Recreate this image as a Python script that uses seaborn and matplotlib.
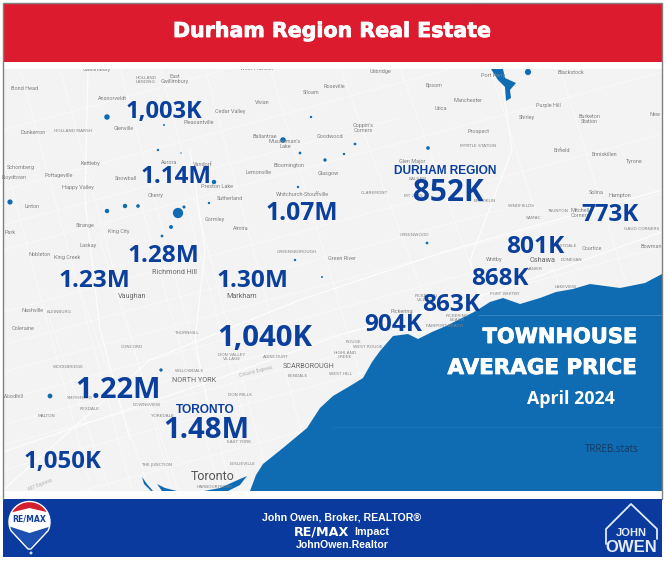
import numpy as np
import seaborn as sns
import matplotlib
matplotlib.use('Agg')
import matplotlib.pyplot as plt
import matplotlib.patheffects as pe
from matplotlib.patches import Rectangle, Polygon, Circle

# Average price labels on the map
price_labels = ['1,003K', '1.14M', '1.07M', '1.28M', '1.23M', '1.30M', '1,040K', '1.22M',
                '1.48M', '1,050K', '852K', '773K', '801K', '868K', '863K', '904K']
price_x = [164, 176, 302, 163, 94, 253, 265, 118, 206, 62, 448, 610, 535, 500, 451, 393]
price_y = [112, 177, 214, 256, 281, 281, 338, 391, 430, 462, 193, 215, 247, 279, 305, 325]
price_size = [17, 17.4, 17.8, 17.6, 17.6, 17.6, 21.2, 21, 21.2, 17.3, 21.4, 17.5, 17.6, 17.4, 17.6, 17.6]

# Place names: (name, x, y)
towns = [('Bond Head', 25, 89), ('East\nGwillimbury', 175, 79), ('Gwillimbury', 97, 69), ('West Franklin', 256, 69),
         ('Ansnorveldt', 112, 98), ('Vivian', 262, 102), ('Siloam', 311, 93), ('Roseville', 334, 86),
         ('Cedar Valley', 230, 112), ('Pleasantville', 199, 123), ('Glenville', 124, 129), ('Dunkerron', 33, 133),
         ('Ballantrae', 265, 136), ("Musselman's\nLake", 285, 144), ('Goodwood', 330, 136), ('Aurora', 169, 163),
         ('Vandorf', 203, 164), ('Kettleby', 90, 164), ('Schomberg', 21, 168), ('Lemonville', 258, 172),
         ('Bloomington', 289, 166), ('Glasgow', 328, 174), ('Pottageville', 59, 176), ('Snowball', 126, 178),
         ('Lloydtown', 14, 178), ('Happy Valley', 78, 187), ('Preston Lake', 217, 186), ('Cherry', 156, 196),
         ('Sutherland', 230, 198), ('Whitchurch-Stouffville', 302, 195), ('Linton', 32, 207), ('Gormley', 215, 220),
         ('Strange', 85, 226), ('Almira', 241, 229), ('Park', 10, 233), ('King City', 119, 232), ('Laskay', 88, 246),
         ('Nobleton', 40, 255), ('King Creek', 67, 257), ('Green River', 342, 258), ('Uxbridge', 380, 72),
         ('Epsom', 434, 86), ('Port Perry', 493, 75), ('Blackstock', 571, 72), ('Manchester', 468, 100),
         ('Utica', 441, 108), ('Purple Hill', 548, 106), ('Shirley', 527, 118), ('Burketon\nStation', 589, 119),
         ('New', 655, 115), ("Coppin's\nCorners", 363, 128), ('Prospect', 478, 132), ('Enfield', 562, 151),
         ('Enniskillen', 604, 155), ('Tyrone', 634, 162), ('Glen Major', 412, 161), ('Mitchell\nCorners', 580, 213),
         ('Solina', 596, 192), ('Hampton', 620, 195), ('Courtice', 592, 248), ('Bowman', 651, 246),
         ('Whitby', 494, 260), ('Nashville', 33, 310), ('Coleraine', 23, 329), ('Woodhill', 13, 396),
         ('Pickering', 402, 312)]

districts = [('HOLLAND\nLANDING', 146, 80), ('HOLLAND MARSH', 73, 131), ('GREENSBOROUGH', 297, 252),
             ('MYRTLE STATION', 478, 146), ('BALSAM', 418, 179), ('MT ZION', 413, 196), ('BROOKLIN', 485, 201),
             ('CLAREMONT', 374, 193), ('WINDFIELDS', 521, 206), ('SAMAC', 533, 218), ('TAUNTON', 557, 211),
             ('GAUD CORNERS', 642, 229), ('GREENWOOD', 415, 235), ('EASTDALE', 566, 246), ('DONEVAN', 571, 260),
             ('VANIER', 535, 269), ('KLEINBURG', 59, 312), ('THORNHILL', 186, 333), ('CONCORD', 132, 347),
             ('DON VALLEY\nVILLAGE', 232, 357), ('AGINCOURT', 276, 357), ('WOODBRIDGE', 68, 367),
             ('WILLOWDALE', 189, 371), ('BENDALE', 298, 376), ('DOWNSVIEW', 147, 405), ('REXDALE', 90, 409),
             ('DON MILLS', 240, 395), ('MALTON', 47, 416), ('YORKDALE', 162, 416), ('EAST YORK', 239, 442),
             ('THE JUNCTION', 157, 465), ('LESLIEVILLE', 243, 464), ('HARBOURFRONT', 215, 487),
             ('PICKERING\nVILLAGE', 426, 298), ('PICKERING\nBEACH', 457, 318), ('FAIRPORT BEACH', 444, 326),
             ('ROUGE', 353, 342), ('WEST ROUGE', 368, 347), ('HIGHLAND\nCREEK', 345, 355), ('WEST HILL', 341, 374),
             ('PORT WHITBY', 505, 294), ('LAKEVIEW', 566, 287), ('SMITHFIELD', 80, 398)]

cities = [('Richmond Hill', 174, 272), ('Vaughan', 132, 296), ('Markham', 242, 296), ('Oshawa', 543, 260),
          ('NORTH YORK', 194, 380), ('SCARBOROUGH', 309, 367)]

# Small lakes and ponds
lake_x = [107, 158, 178, 125, 138, 107, 184, 171, 162, 209, 214, 10, 283, 311, 325, 298, 300, 295, 322,
          428, 355, 344, 427, 161, 50, 528, 164, 181]
lake_y = [117, 150, 213, 206, 206, 211, 207, 227, 236, 203, 182, 202, 140, 117, 160, 187, 153, 260, 277,
          148, 144, 154, 243, 370, 396, 72, 125, 153]
lake_area = [16, 3, 55, 10, 7, 10, 5, 8, 4, 3, 10, 14, 16, 3, 6, 3, 4, 3, 2,
             7, 4, 3, 4, 6, 12, 20, 2, 1]

# Road lines on the base map
roads = [((3, 130), (662, -48)), ((3, 190), (662, 12)), ((3, 250), (662, 72)), ((3, 312), (662, 134)),
         ((3, 372), (662, 194)), ((3, 425), (662, 247)), ((3, 470), (662, 292)), ((3, 512), (500, 378)),
         ((3, 225), (400, 118)), ((3, 345), (500, 210)), ((3, 400), (500, 265)), ((3, 445), (450, 325)),
         ((60, 68), (172, 491)), ((120, 68), (232, 491)), ((160, 68), (272, 491)), ((205, 68), (317, 491)),
         ((270, 68), (382, 450)), ((340, 68), (440, 340)), ((400, 68), (490, 320)), ((490, 68), (560, 290)),
         ((560, 68), (625, 280)), ((20, 68), (132, 491)), ((-20, 68), (92, 491)), ((140, 200), (220, 491)),
         ((185, 200), (245, 420)), ((100, 240), (178, 491)), ((80, 290), (150, 491)), ((50, 320), (110, 491))]
highways = [((3, 452), (200, 385), (340, 335), (500, 290), (662, 232)),
            ((3, 490), (150, 360), (300, 300), (450, 250), (662, 190)),
            ((88, 68), (85, 200), (100, 330), (130, 440)),
            ((190, 150), (205, 250), (195, 340), (215, 440)),
            ((500, 68), (512, 150), (470, 260), (480, 300))]

# Larger water shapes
lake_ontario = [(250, 491), (256, 475), (263, 464), (283, 448), (307, 428), (320, 408), (333, 396), (350, 386),
                (363, 378), (372, 362), (380, 351), (393, 336), (408, 334), (418, 339), (432, 332), (446, 326),
                (462, 318), (476, 311), (490, 302), (503, 298), (520, 304), (540, 298), (556, 292), (573, 289),
                (590, 284), (620, 288), (645, 283), (662, 274), (662, 491)]
port_perry = [(491, 69), (503, 69), (505, 78), (516, 83), (510, 90), (511, 98), (506, 101), (505, 87), (498, 80)]
harbour = [(204, 491), (220, 488), (240, 479), (247, 476), (240, 485), (228, 491)]
west_bay = [(157, 484), (165, 488), (177, 491), (162, 491)]
humber = [(142, 477), (147, 484), (153, 491), (151, 491), (144, 484)]

RED = '#dc1c2e'
NAVY = '#0b3a9e'
PRICE = '#0b3f9c'
WATER = '#0f6cb3'
LAND = '#f3f3f4'
W, H = 667, 562

sns.set_theme(style='white')
plt.rcParams['font.family'] = ['Open Sans', 'DejaVu Sans']

fig = plt.figure(figsize=(W / 100, H / 100), dpi=100)
ax = fig.add_axes([0, 0, 1, 1])
ax.set_xlim(0, W)
ax.set_ylim(H, 0)
ax.axis('off')

# Map base
ax.add_patch(Rectangle((3, 68), 659, 423, fc=LAND, ec='none', zorder=0))
for r in roads:
    ax.plot(*zip(*r), color='#fbfbfb', lw=0.5, zorder=1)
for r in highways:
    ax.plot(*zip(*r), color='#fdfdfd', lw=0.9, zorder=1)

# Water
for shape in [lake_ontario, port_perry, harbour, west_bay, humber]:
    ax.add_patch(Polygon(shape, closed=True, fc=WATER, ec='none', zorder=2))
sns.scatterplot(x=lake_x, y=lake_y, s=lake_area, color=WATER, linewidth=0, ax=ax, legend=False, zorder=2)
ax.plot([478, 662], [315, 315], color='#3f8ac6', lw=0.6, zorder=2)
ax.plot([333, 662], [427, 427], color='#2477ba', lw=0.5, zorder=2)

# Place names
for name, x, y in towns:
    ax.text(x, y, name, fontsize=4.0, color='#808080', ha='center', va='center', family='Roboto',
            linespacing=0.9, zorder=3)
for name, x, y in districts:
    ax.text(x, y, name, fontsize=3.2, color='#858585', ha='center', va='center', family='DejaVu Sans',
            linespacing=0.9, zorder=3)
for name, x, y in cities:
    ax.text(x, y, name, fontsize=5.2, color='#6a6a6a', ha='center', va='center', family='Roboto', zorder=3)
ax.text(213, 476, 'Toronto', fontsize=9, color='#555555', ha='center', va='center', family='Roboto', zorder=3)
ax.text(256, 371, 'Ontario Express', fontsize=3.3, color='#a5a5a5', rotation=14, ha='center', va='center', zorder=3)
ax.text(40, 485, '407 Express', fontsize=3.3, color='#a5a5a5', rotation=22, ha='center', va='center', zorder=3)

# Prices
for label, x, y, size in zip(price_labels, price_x, price_y, price_size):
    ax.text(x, y, label, fontsize=size, fontweight='bold', color=PRICE, ha='center', va='center', zorder=4)
ax.text(445, 171, 'DURHAM REGION', fontsize=8.6, fontweight='bold', color=PRICE, ha='center', va='center',
        family='Liberation Sans', zorder=4)
ax.text(205, 410, 'TORONTO', fontsize=8.6, fontweight='bold', color=PRICE, ha='center', va='center',
        family='Liberation Sans', zorder=4)

# Panel text on the lake
heavy = [pe.withStroke(linewidth=0.6, foreground='white')]
ax.text(637, 337, 'TOWNHOUSE', fontsize=15.1, fontweight='bold', color='white', ha='right', va='center',
        family='DejaVu Sans', path_effects=heavy, zorder=4)
ax.text(637, 368, 'AVERAGE PRICE', fontsize=15.4, fontweight='bold', color='white', ha='right', va='center',
        family='DejaVu Sans', path_effects=heavy, zorder=4)
ax.text(571, 399, 'April 2024', fontsize=12.8, fontweight='bold', color='white', ha='center', va='center', zorder=4)
ax.text(639, 449, 'TRREB.stats', fontsize=7, color='#17385c', ha='right', va='center', zorder=4)

# Header, strips and footer on top of the map
ax.add_patch(Rectangle((3, 62), 659, 7, fc='white', ec='none', zorder=5))
ax.add_patch(Rectangle((3, 4), 659, 58, fc=RED, ec='none', zorder=6))
ax.add_patch(Rectangle((3, 491), 659, 8, fc='white', ec='none', zorder=5))
ax.add_patch(Rectangle((3, 499), 659, 58, fc=NAVY, ec='none', zorder=6))
ax.plot([3, 3, 662, 662], [499, 3, 3, 499], color='#808080', lw=1, zorder=7)
ax.text(332, 31, 'Durham Region Real Estate', fontsize=14.8, fontweight='bold', color='white', ha='center',
        va='center', family='DejaVu Sans', path_effects=heavy, zorder=8)

# Footer text
ax.text(342, 518, 'John Owen, Broker, REALTOR®', fontsize=7.6, fontweight='bold', color='white', ha='center',
        va='center', family='Liberation Sans', zorder=8)
ax.text(322, 532, 'RE/MAX', fontsize=9.2, fontweight='bold', color='white', ha='center', va='center',
        family='DejaVu Sans', zorder=8)
ax.text(372, 532, 'Impact', fontsize=7.8, fontweight='bold', color='white', ha='center', va='center',
        family='Liberation Sans', zorder=8)
ax.text(342, 545, 'JohnOwen.Realtor', fontsize=7.6, fontweight='bold', color='white', ha='center', va='center',
        family='Liberation Sans', zorder=8)

# RE/MAX balloon
theta = np.radians(np.linspace(-25, 205, 60))
arc = [(29.5 + 20.5 * np.cos(t), 522 - 20.5 * np.sin(t)) for t in theta]
balloon = Polygon(arc + [(28, 549), (31, 549)], closed=True, fc='white', ec='none', zorder=8)
ax.add_patch(balloon)
for shape, color in [([(5, 500), (55, 500), (55, 514), (29.5, 508), (5, 514)], '#d3202f'),
                     ([(5, 525), (29.5, 533), (55, 525), (55, 555), (5, 555)], '#1c4fb0')]:
    part = Polygon(shape, closed=True, fc=color, ec='none', zorder=8.5)
    ax.add_patch(part)
    part.set_clip_path(balloon)
ax.add_patch(Polygon(arc + [(28, 549), (31, 549)], closed=True, fc='none', ec='white', lw=1, zorder=8.7))
ax.text(29.5, 519, 'RE/MAX', fontsize=5.6, fontweight='bold', color='#123f9f', ha='center', va='center',
        family='DejaVu Sans', zorder=9)
ax.add_patch(Circle((31, 553), 1.5, fc='#cfd8ee', ec='none', zorder=9))

# John Owen house mark
ax.plot([606, 606, 631, 657, 657], [544, 529, 504, 529, 539], color='#e3ebf7', lw=1.3, zorder=8)
ax.text(631, 533, 'JOHN', fontsize=8, color='#e3ebf7', fontweight='bold', ha='center', va='center',
        family='Liberation Sans', zorder=9)
ax.text(631, 548, 'OWEN', fontsize=12, color='#e3ebf7', fontweight='bold', ha='center', va='center',
        family='Liberation Sans', zorder=9)

fig.savefig('out.png', dpi=100)
